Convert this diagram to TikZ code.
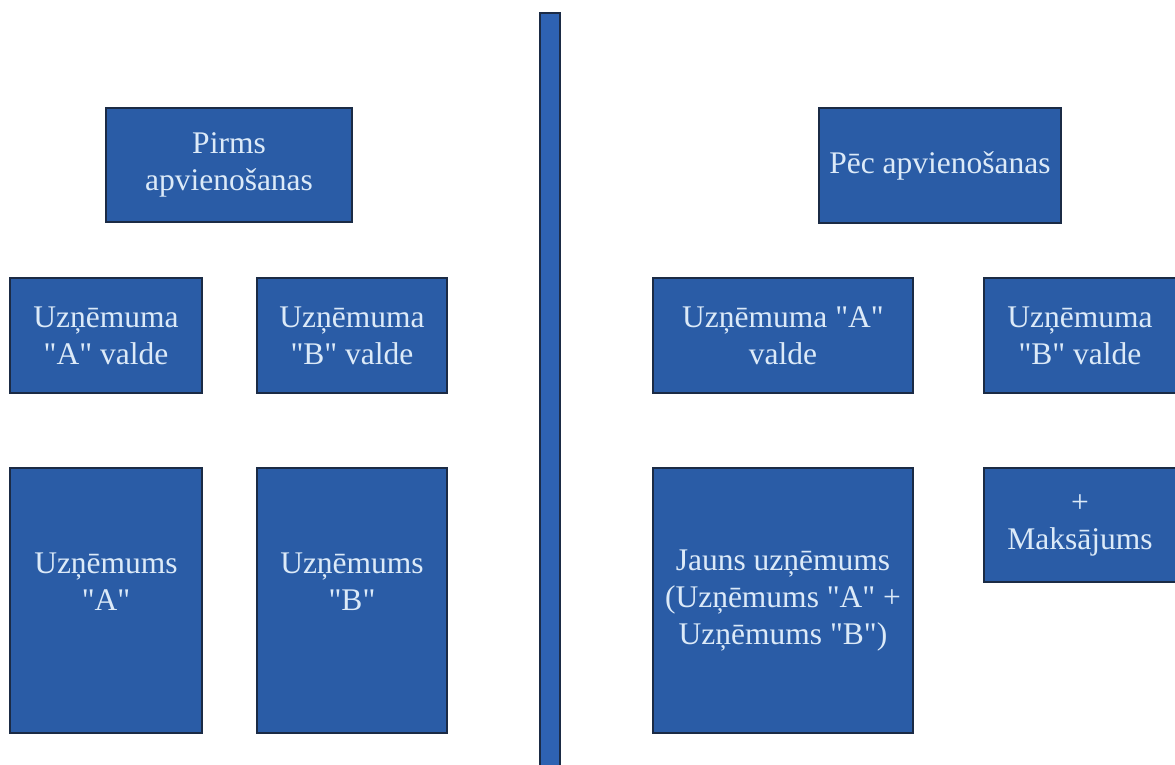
\documentclass[tikz,border=0pt]{standalone}
\usepackage{fontspec}
% keep the double quote straight
\setmainfont{Liberation Serif}[Ligatures=TeXOff]
\definecolor{boxblue}{HTML}{2A5CA6}
\definecolor{barblue}{HTML}{2E62B2}
\definecolor{edgedark}{HTML}{1B2B45}
\definecolor{boxtext}{HTML}{DCEAF8}
\begin{document}
\begin{tikzpicture}[x=1pt,y=-1pt,
  box/.style={draw=edgedark, line width=1.3pt, fill=boxblue, rectangle,
    inner sep=0pt, align=center, text=boxtext,
    font=\fontsize{31.5}{37}\selectfont},
  divider/.style={draw=edgedark, line width=1.3pt, fill=barblue, rectangle,
    inner sep=0pt}]
\fill[white] (0,0) rectangle (1175,765);
\useasboundingbox (0,0) rectangle (1175,765);
\clip (0,0) rectangle (1175,765);

% left half: before the merger
\node[box, minimum width=246pt, minimum height=114pt] (pirms) at (229,165) {Pirms\\apvienošanas};
\node[box, minimum width=192pt, minimum height=115pt] (avalde) at (106,335.5) {Uzņēmuma\\"A" valde};
\node[box, minimum width=190pt, minimum height=115pt] (bvalde) at (352,335.5) {Uzņēmuma\\"B" valde};
\node[box, minimum width=192pt, minimum height=265pt] (ua) at (106,600.5) {Uzņēmums\\"A"\\\mbox{}};
\node[box, minimum width=190pt, minimum height=265pt] (ub) at (352,600.5) {Uzņēmums\\"B"\\\mbox{}};

% dividing bar
\node[divider, minimum width=20pt, minimum height=760pt] (bar) at (550,393) {};

% right half: after the merger
\node[box, minimum width=242pt, minimum height=115pt] (pec) at (940,165.5) {Pēc apvienošanas};
\node[box, minimum width=260pt, minimum height=115pt] (avalde2) at (783,335.5) {Uzņēmuma "A"\\valde};
\node[box, minimum width=192pt, minimum height=115pt] (bvalde2) at (1080,335.5) {Uzņēmuma\\"B" valde};
\node[box, minimum width=260pt, minimum height=265pt] (jauns) at (783,600.5) {Jauns uzņēmums\\(Uzņēmums "A" +\\Uzņēmums "B")};
\node[box, minimum width=192pt, minimum height=114pt] (maks) at (1080,525) {+\\Maksājums};
\end{tikzpicture}
\end{document}
